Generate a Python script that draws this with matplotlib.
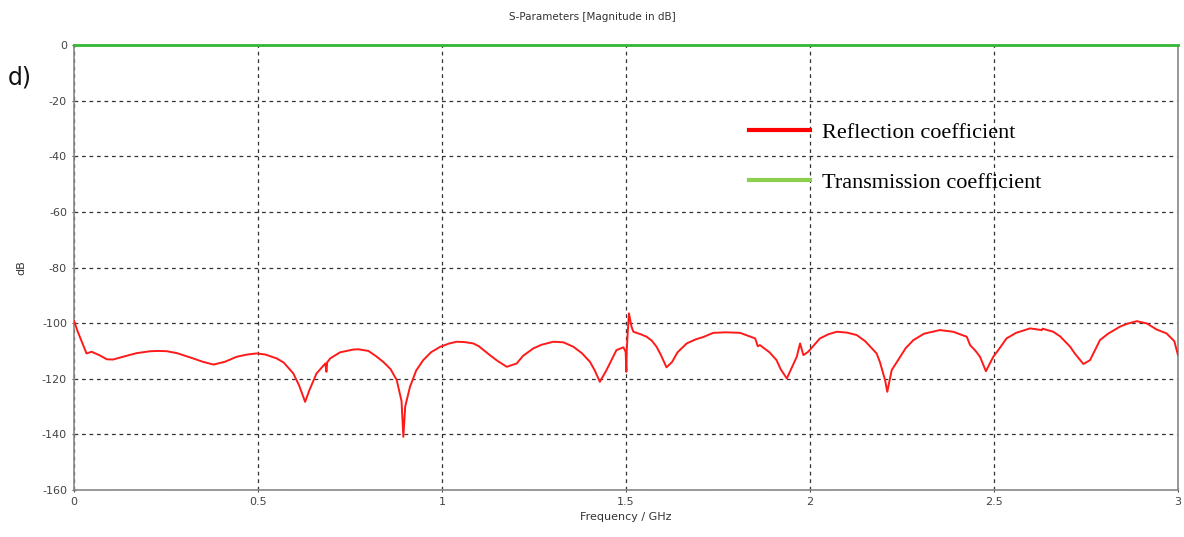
import matplotlib

matplotlib.use("Agg")
import matplotlib.pyplot as plt

plt.rcParams["axes.unicode_minus"] = False

# reflection coefficient |S11| in dB
refl_freq = [0.000, 0.010, 0.034, 0.048, 0.070, 0.089, 0.106, 0.130, 0.170, 0.207,
             0.230, 0.252, 0.280, 0.324, 0.350, 0.379, 0.410, 0.442, 0.470, 0.496,
             0.520, 0.551, 0.570, 0.596, 0.612, 0.628, 0.640, 0.659, 0.683, 0.686,
             0.688, 0.690, 0.696, 0.723, 0.759, 0.773, 0.800, 0.820, 0.840, 0.860,
             0.877, 0.890, 0.895, 0.900, 0.913, 0.930, 0.949, 0.970, 0.995, 1.020,
             1.040, 1.060, 1.085, 1.100, 1.130, 1.150, 1.176, 1.203, 1.220, 1.248,
             1.270, 1.302, 1.330, 1.357, 1.380, 1.402, 1.415, 1.429, 1.447, 1.474,
             1.493, 1.499, 1.501, 1.502, 1.504, 1.508, 1.515, 1.520, 1.540, 1.556,
             1.570, 1.583, 1.595, 1.610, 1.625, 1.640, 1.665, 1.690, 1.710, 1.737,
             1.770, 1.810, 1.851, 1.858, 1.864, 1.870, 1.890, 1.909, 1.920, 1.937,
             1.964, 1.973, 1.982, 1.995, 2.027, 2.050, 2.073, 2.100, 2.127, 2.150,
             2.181, 2.190, 2.204, 2.210, 2.222, 2.245, 2.260, 2.281, 2.310, 2.353,
             2.389, 2.426, 2.435, 2.450, 2.462, 2.478, 2.498, 2.510, 2.534, 2.560,
             2.598, 2.630, 2.632, 2.661, 2.680, 2.707, 2.720, 2.743, 2.761, 2.788,
             2.810, 2.842, 2.860, 2.888, 2.915, 2.942, 2.969, 2.990, 3.000]
refl_db = [-99.2, -103.0, -110.9, -110.3, -111.6, -113.0, -113.1, -112.2, -110.8, -110.1,
           -110.0, -110.1, -110.8, -112.7, -113.9, -114.9, -113.9, -112.1, -111.3, -110.9,
           -111.3, -112.7, -114.2, -118.1, -122.5, -128.3, -124.0, -118.1, -114.5, -117.5,
           -114.0, -113.8, -112.7, -110.5, -109.5, -109.4, -110.0, -111.8, -113.9, -116.5,
           -120.5, -128.0, -140.9, -130.0, -122.9, -117.0, -113.3, -110.5, -108.5, -107.3,
           -106.7, -106.8, -107.3, -108.3, -111.5, -113.5, -115.7, -114.5, -111.8, -109.1,
           -107.8, -106.7, -106.9, -108.5, -110.8, -113.9, -117.0, -121.1, -116.9, -109.7,
           -108.7, -110.3, -117.5, -109.7, -105.0, -96.5, -101.3, -103.1, -104.0, -104.9,
           -106.3, -108.5, -111.5, -115.9, -114.0, -110.5, -107.3, -105.8, -105.0, -103.5,
           -103.3, -103.5, -105.5, -108.3, -107.9, -108.5, -110.5, -113.3, -116.5, -119.9,
           -112.1, -107.3, -111.5, -110.3, -105.5, -104.0, -103.1, -103.4, -104.3, -106.5,
           -110.9, -114.0, -120.5, -124.7, -116.9, -112.1, -109.0, -106.1, -103.8, -102.5,
           -103.1, -104.9, -107.9, -110.0, -112.1, -117.3, -112.1, -110.0, -105.5, -103.5,
           -101.9, -102.5, -102.0, -103.1, -104.8, -108.5, -111.0, -114.7, -113.3, -106.1,
           -103.8, -101.3, -100.3, -99.3, -100.1, -102.3, -103.7, -106.5, -111.5]

# transmission coefficient |S21| in dB
trans_freq = [0.0, 3.0]
trans_db = [0.0, 0.0]

x_ticks = [0, 0.5, 1, 1.5, 2, 2.5, 3]
x_labels = ["0", "0.5", "1", "1.5", "2", "2.5", "3"]
y_ticks = [0, -20, -40, -60, -80, -100, -120, -140, -160]

fig = plt.figure(figsize=(11.84, 5.37), dpi=100)
fig.patch.set_facecolor("white")
ax = fig.add_axes([74 / 1184, 1 - 490 / 537, 1104 / 1184, 445 / 537])

refl_line, = ax.plot(refl_freq, refl_db, color="#ff1a1a", lw=1.4,
                     label="Reflection coefficient", zorder=4)
trans_line, = ax.plot(trans_freq, trans_db, color="#33b833", lw=2.0,
                      label="Transmission coefficient", zorder=5, clip_on=False)

ax.set_xlim(0, 3)
ax.set_ylim(-160, 0)
ax.set_xticks(x_ticks)
ax.set_xticklabels(x_labels)
ax.set_yticks(y_ticks)
ax.tick_params(labelsize=8, colors="#444444", length=3, direction="inout")
ax.grid(True, color="#333333", ls=(0, (3, 3)), lw=0.9)
for side in ["left", "bottom", "right"]:
    ax.spines[side].set_color("#888888")
    ax.spines[side].set_linewidth(1.2)
ax.spines["top"].set_visible(False)

ax.set_xlabel("Frequency / GHz", fontsize=8, color="#333333", labelpad=4)
ax.set_ylabel("dB", fontsize=8, color="#333333", labelpad=11)
fig.text(0.5, 1 - 17 / 537, "S-Parameters [Magnitude in dB]", ha="center",
         va="center", fontsize=7.5, color="#333333")
fig.text(8 / 1184, 1 - 78 / 537, "d)", ha="left", va="center", fontsize=17,
         color="#111111")

leg = ax.legend(handles=[refl_line, trans_line], loc="upper left",
                bbox_to_anchor=((729 - 74) / 1104, (490 - 102) / 445),
                frameon=False, prop={"family": "Liberation Serif", "size": 16},
                handlelength=2.75, handletextpad=0.55, labelspacing=1.33)
leg_lines = leg.get_lines()
leg_lines[0].set_linewidth(3)
leg_lines[0].set_color("#ff0000")
leg_lines[1].set_linewidth(3)
leg_lines[1].set_color("#8ccf4d")

fig.savefig("out.png", dpi=100, facecolor="white")
